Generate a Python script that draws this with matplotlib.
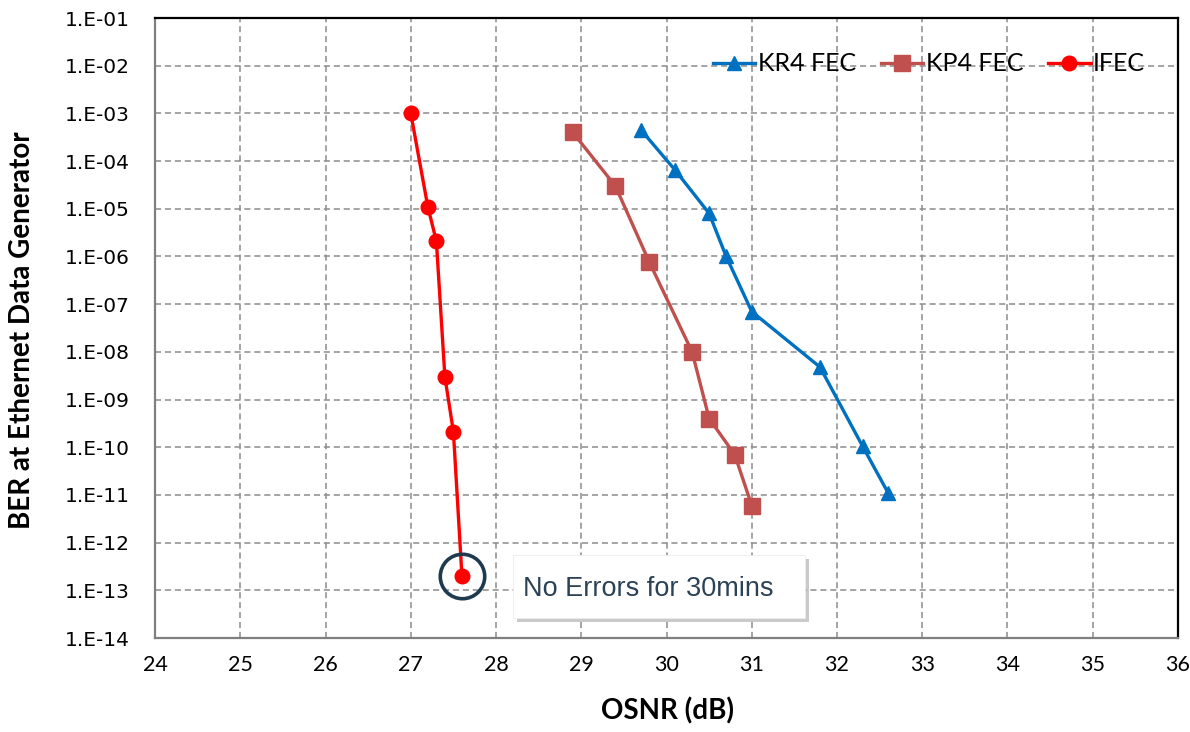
import matplotlib
matplotlib.use("Agg")
import matplotlib.pyplot as plt
from matplotlib.ticker import FixedLocator, FuncFormatter, NullLocator
from matplotlib.patches import Rectangle
import matplotlib.patheffects as pe
import numpy as np

# OSNR (dB) vs BER
kr4_osnr = [29.7, 30.1, 30.5, 30.7, 31.0, 31.8, 32.3, 32.6]
kr4_ber = [4.5e-4, 6.5e-5, 8e-6, 1e-6, 7e-8, 4.8e-9, 1.05e-10, 1.1e-11]

kp4_osnr = [28.9, 29.4, 29.8, 30.3, 30.5, 30.8, 31.0]
kp4_ber = [4e-4, 3e-5, 7.5e-7, 1e-8, 4e-10, 7e-11, 6e-12]

ifec_osnr = [27.0, 27.2, 27.3, 27.4, 27.5, 27.6]
ifec_ber = [1e-3, 1.1e-5, 2.1e-6, 3e-9, 2.1e-10, 2e-13]

x_ticks = list(range(24, 37))
y_exps = list(range(-14, 0))

fig = plt.figure(figsize=(11.9, 7.32), dpi=100)
ax = fig.add_axes([0.1303, 0.1284, 0.8596, 0.8470])

ax.plot(kr4_osnr, kr4_ber, color="#0070C0", lw=2.4, marker="^", ms=10.5, label="KR4 FEC")
ax.plot(kp4_osnr, kp4_ber, color="#C0504D", lw=2.4, marker="s", ms=11, label="KP4 FEC")
ax.plot(ifec_osnr, ifec_ber, color="#FF0000", lw=2.4, marker="o", ms=10.5, label="IFEC")

ax.set_yscale("log")
ax.set_xlim(24, 36)
ax.set_ylim(1e-14, 1e-1)
ax.xaxis.set_major_locator(FixedLocator(x_ticks))
ax.yaxis.set_major_locator(FixedLocator([10.0 ** e for e in y_exps]))
ax.yaxis.set_minor_locator(NullLocator())
ax.yaxis.set_major_formatter(FuncFormatter(lambda v, p: "1.E-%02d" % round(-np.log10(v))))
ax.tick_params(length=0)
ax.tick_params(axis="y", labelsize=14.5, pad=18)
ax.tick_params(axis="x", labelsize=15.5, pad=12)
for lab in ax.get_xticklabels():
    lab.set_fontfamily(["Lato", "DejaVu Sans"])

ax.grid(True, which="major", ls=(0, (4, 2.5)), color="#8c8c8c", lw=1.1)
for s in ax.spines.values():
    s.set_linewidth(1.6)
ax.spines["left"].set_color("#7f7f7f")
ax.spines["bottom"].set_color("#7f7f7f")

ax.set_xlabel("OSNR (dB)", fontsize=20, fontweight="bold", family=["Lato", "DejaVu Sans"])
ax.set_ylabel("BER at Ethernet Data Generator", fontsize=20, fontweight="bold",
              family=["Lato", "DejaVu Sans"])
ax.xaxis.set_label_coords(0.501, -0.096)
ax.yaxis.set_label_coords(-0.117, 0.497)

ax.legend(loc="center right", ncol=3, frameon=False, bbox_to_anchor=(0.968, 0.926),
          handlelength=1.7, handletextpad=0.1, columnspacing=1.0,
          borderpad=0, borderaxespad=0,
          prop={"family": ["Lato", "DejaVu Sans"], "size": 18})

# annotation: circled last IFEC point and note box
ax.plot([ifec_osnr[-1]], [ifec_ber[-1]], marker="o", ms=32, mfc="none",
        mec="#1e3a4f", mew=2.6, ls="none", zorder=5)
box = Rectangle((0.350, 0.032), 0.285, 0.102, transform=ax.transAxes,
                fc="white", ec="#ececec", lw=0.6, zorder=4)
box.set_path_effects([pe.SimplePatchShadow(offset=(3, -3), shadow_rgbFace="#8a8a8a", alpha=0.45),
                      pe.Normal()])
ax.add_patch(box)
ax.text(0.3597, 0.079, "No Errors for 30mins", transform=ax.transAxes, fontsize=19.5,
        color="#2b4156", va="center", ha="left", family=["Liberation Sans", "DejaVu Sans"],
        zorder=6)

fig.savefig("out.png", dpi=100)
